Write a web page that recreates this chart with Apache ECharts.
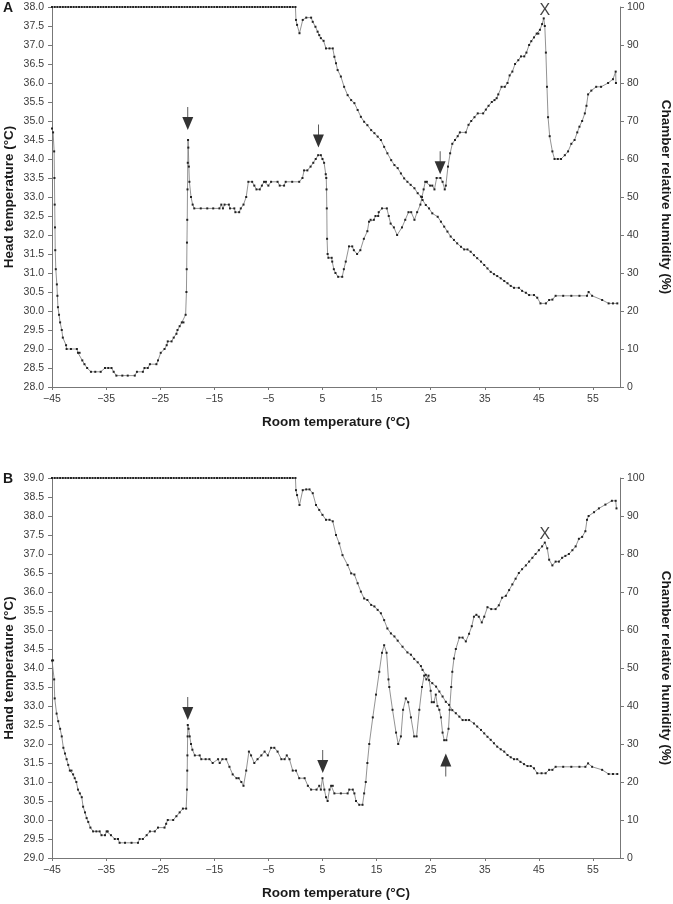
<!DOCTYPE html>
<html>
<head>
<meta charset="utf-8">
<script src="https://cdn.jsdelivr.net/npm/echarts@6/dist/echarts.min.js"></script>
<style>
html,body{margin:0;padding:0;background:#fff;}
#chart{width:673px;height:904px;}
</style>
</head>
<body>
<div id="chart"></div>
<script>
// ---- Data ----
const roomTempTicks = [-45, -35, -25, -15, -5, 5, 15, 25, 35, 45, 55];

// humidity held at 100 % (saturated) before the chamber starts drying
const saturatedPhase = [
[-45,100],[-44.5,100],[-44,100],[-43.5,100],[-43,100],[-42.5,100],[-42,100],[-41.5,100],[-41,100],[-40.5,100],
[-40,100],[-39.5,100],[-39,100],[-38.5,100],[-38,100],[-37.5,100],[-37,100],[-36.5,100],[-36,100],[-35.5,100],
[-35,100],[-34.5,100],[-34,100],[-33.5,100],[-33,100],[-32.5,100],[-32,100],[-31.5,100],[-31,100],[-30.5,100],
[-30,100],[-29.5,100],[-29,100],[-28.5,100],[-28,100],[-27.5,100],[-27,100],[-26.5,100],[-26,100],[-25.5,100],
[-25,100],[-24.5,100],[-24,100],[-23.5,100],[-23,100],[-22.5,100],[-22,100],[-21.5,100],[-21,100],[-20.5,100],
[-20,100],[-19.5,100],[-19,100],[-18.5,100],[-18,100],[-17.5,100],[-17,100],[-16.5,100],[-16,100],[-15.5,100],
[-15,100],[-14.5,100],[-14,100],[-13.5,100],[-13,100],[-12.5,100],[-12,100],[-11.5,100],[-11,100],[-10.5,100],
[-10,100],[-9.5,100],[-9,100],[-8.5,100],[-8,100],[-7.5,100],[-7,100],[-6.5,100],[-6,100],[-5.5,100],
[-5,100],[-4.5,100],[-4,100],[-3.5,100],[-3,100],[-2.5,100],[-2,100],[-1.5,100],[-1,100],[-0.5,100]
];

const headTempA = [
[-45.0,34.8],[-44.8,34.7],[-44.6,34.2],[-44.55,33.5],[-44.5,32.8],[-44.45,32.2],[-44.4,31.6],[-44.3,31.1],[-44.1,30.7],[-44.0,30.4],
[-43.9,30.1],[-43.7,29.9],[-43.5,29.7],[-43.2,29.5],[-43.0,29.3],[-42.4,29.1],[-42.3,29.0],[-41.5,29.0],[-40.4,29.0],[-40.2,28.9],
[-39.9,28.9],[-39.4,28.7],[-39.0,28.6],[-38.5,28.5],[-37.8,28.4],[-37.0,28.4],[-36.0,28.4],[-35.2,28.5],[-34.6,28.5],[-34.0,28.5],
[-33.6,28.4],[-33.1,28.3],[-32.0,28.3],[-31.0,28.3],[-29.7,28.3],[-29.3,28.4],[-28.2,28.4],[-27.9,28.5],[-27.3,28.5],[-26.9,28.6],
[-25.7,28.6],[-25.4,28.7],[-24.9,28.9],[-24.2,29.0],[-23.8,29.1],[-23.6,29.2],[-22.9,29.2],[-22.5,29.3],[-22.0,29.4],[-21.8,29.5],
[-21.4,29.6],[-21.0,29.7],[-20.7,29.7],[-20.3,29.9],[-20.15,30.5],[-20.1,31.1],[-20.05,31.8],[-20.0,32.4],[-19.95,33.2],[-19.9,33.9],
[-19.85,34.5],[-19.8,34.3],[-19.7,33.8],[-19.6,33.4],[-19.3,33.0],[-19.0,32.8],[-18.7,32.7],[-17.5,32.7],[-16.3,32.7],[-15.2,32.7],
[-14.05,32.7],[-13.7,32.8],[-13.4,32.7],[-13.1,32.8],[-12.3,32.8],[-12.1,32.7],[-11.3,32.7],[-11.1,32.6],[-10.4,32.6],[-10.1,32.7],
[-9.6,32.8],[-9.1,33.0],[-8.7,33.4],[-8.0,33.4],[-7.6,33.3],[-7.2,33.2],[-6.6,33.2],[-6.2,33.3],[-5.8,33.4],[-5.45,33.4],
[-5.0,33.3],[-4.5,33.4],[-3.3,33.4],[-2.9,33.3],[-2.1,33.3],[-1.8,33.4],[-0.6,33.4],[0.7,33.4],[1.3,33.5],[1.6,33.7],
[2.2,33.7],[2.8,33.8],[3.3,33.9],[3.75,34.0],[4.2,34.1],[4.7,34.1],[5.0,34.0],[5.3,33.9],[5.6,33.6],[5.7,33.5],
[5.75,33.2],[5.8,32.7],[5.85,31.9],[5.95,31.5],[6.1,31.4],[6.7,31.4],[6.8,31.3],[7.1,31.1],[7.4,31.0],[7.9,30.9],
[8.65,30.9],[8.95,31.1],[9.3,31.3],[9.9,31.7],[10.5,31.7],[10.8,31.6],[11.4,31.5],[12.0,31.6],[12.65,31.9],[13.3,32.1],
[13.6,32.35],[13.9,32.4],[14.5,32.4],[14.8,32.5],[15.3,32.5],[15.4,32.6],[16.0,32.7],[16.9,32.7],[17.25,32.5],[17.6,32.3],
[18.2,32.2],[18.8,32.0],[19.7,32.2],[20.3,32.4],[20.9,32.6],[21.4,32.6],[22.0,32.4],[22.5,32.6],[23.1,32.8],[23.4,33.0],
[23.7,33.2],[24.0,33.4],[24.3,33.4],[24.9,33.3],[25.3,33.3],[25.7,33.2],[26.1,33.5],[26.8,33.5],[27.2,33.4],[27.6,33.2],
[27.8,33.3],[28.2,33.8],[28.6,34.15],[29.0,34.4],[29.5,34.5],[30.0,34.6],[30.4,34.7],[31.5,34.7],[32.0,34.9],[32.5,35.0],
[33.1,35.1],[33.7,35.2],[34.7,35.2],[35.2,35.3],[35.7,35.4],[36.3,35.5],[36.8,35.55],[37.2,35.6],[37.5,35.7],[38.1,35.9],
[38.7,35.9],[39.2,36.0],[39.6,36.2],[40.1,36.3],[40.6,36.5],[41.2,36.6],[41.7,36.7],[42.3,36.7],[42.7,36.8],[43.2,37.0],
[43.6,37.1],[44.1,37.2],[44.6,37.3],[44.9,37.3],[45.2,37.4],[45.6,37.55],[45.9,37.7],[46.1,37.5],[46.3,36.8],[46.5,35.9],
[46.7,35.1],[47.0,34.6],[47.5,34.2],[47.9,34.0],[48.5,34.0],[49.1,34.0],[49.8,34.1],[50.4,34.2],[51.0,34.4],[51.6,34.5],
[52.1,34.7],[52.5,34.85],[53.0,35.0],[53.5,35.2],[53.8,35.4],[54.1,35.7],[54.7,35.8],[55.6,35.9],[56.5,35.9],[57.8,36.0],
[58.7,36.1],[59.2,36.3],[59.25,36.0]
];

const humidityDryingA = [
[0.0,100],[0.1,96.6],[0.3,95.3],[0.75,93.1],[1.35,96.6],[2.0,97.2],[2.9,97.2],[3.2,96.1],[3.7,94.8],[4.1,93.5],
[4.4,92.6],[4.7,91.8],[5.2,91.1],[5.65,89.1],[6.3,89.1],[6.9,89.1],[7.2,86.9],[7.5,85.2],[7.8,83.4],[8.4,81.7],
[9.0,79.0],[9.65,76.8],[10.3,75.5],[10.9,74.7],[11.5,72.9],[12.1,71.1],[12.7,69.8],[13.3,68.9],[14.0,67.6],[14.6,66.8],
[15.2,65.9],[15.8,65.0],[16.4,63.2],[17.0,61.5],[17.7,59.7],[18.3,58.4],[18.9,57.6],[19.5,56.2],[20.1,54.9],[20.7,54.0],
[21.3,53.2],[22.0,52.3],[22.6,51.0],[23.2,50.1],[23.5,49.2],[24.1,47.9],[24.7,47.0],[25.3,45.7],[26.3,44.8],[26.9,43.5],
[27.5,42.2],[28.1,40.9],[28.7,39.6],[29.3,38.7],[29.9,37.8],[30.6,36.9],[31.2,36.2],[31.8,36.2],[32.4,35.6],[33.0,34.7],
[33.6,33.9],[34.3,33.0],[34.9,32.1],[35.5,31.2],[36.1,30.3],[36.7,29.7],[37.3,29.2],[37.95,28.6],[38.6,27.9],[39.2,27.3],
[39.8,26.6],[40.4,26.1],[41.3,26.1],[41.9,25.3],[42.6,24.8],[43.2,24.2],[44.1,24.2],[44.7,23.5],[45.3,22.0],[46.3,22.0],
[46.9,22.9],[47.5,23.0],[48.1,24.0],[49.5,24.0],[51.0,24.0],[52.5,24.0],[53.9,24.0],[54.2,25.0],[54.85,24.0],[56.7,22.9],
[57.9,22.0],[58.7,22.0],[59.5,22.0]
];

const handTempB = [
[-45.0,34.2],[-44.8,34.2],[-44.6,33.7],[-44.5,33.2],[-44.15,32.8],[-43.85,32.6],[-43.5,32.4],[-43.2,32.2],[-42.9,31.9],[-42.6,31.75],
[-42.3,31.6],[-42.0,31.45],[-41.7,31.3],[-41.4,31.3],[-41.1,31.2],[-40.8,31.1],[-40.5,31.0],[-40.2,30.8],[-39.85,30.7],[-39.5,30.6],
[-39.25,30.35],[-38.9,30.2],[-38.6,30.05],[-38.3,29.95],[-37.9,29.8],[-37.4,29.7],[-36.8,29.7],[-36.2,29.7],[-35.85,29.6],[-35.2,29.6],
[-34.9,29.7],[-34.7,29.7],[-34.1,29.6],[-33.4,29.5],[-32.8,29.5],[-32.5,29.4],[-31.5,29.4],[-30.3,29.4],[-29.1,29.4],[-28.8,29.5],
[-28.2,29.5],[-27.5,29.6],[-26.9,29.7],[-26.0,29.7],[-25.4,29.8],[-24.2,29.8],[-23.9,29.9],[-23.6,30.0],[-22.6,30.0],[-22.0,30.1],
[-21.4,30.2],[-20.8,30.3],[-20.2,30.3],[-20.05,30.8],[-20.0,31.3],[-19.97,31.7],[-19.93,32.2],[-19.9,32.5],[-19.75,32.4],[-19.55,32.2],
[-19.3,32.0],[-19.05,31.85],[-18.6,31.7],[-17.7,31.7],[-17.4,31.6],[-16.6,31.6],[-15.9,31.6],[-15.3,31.5],[-14.3,31.6],[-14.0,31.5],
[-13.5,31.6],[-12.8,31.6],[-12.2,31.4],[-11.6,31.2],[-10.9,31.1],[-10.5,31.1],[-10.0,31.0],[-9.6,30.9],[-9.1,31.3],[-8.6,31.8],
[-8.2,31.7],[-7.6,31.5],[-7.0,31.6],[-6.3,31.7],[-5.7,31.8],[-5.1,31.7],[-4.5,31.9],[-3.9,31.9],[-3.3,31.8],[-2.6,31.6],
[-2.0,31.6],[-1.6,31.7],[-1.1,31.6],[-0.5,31.3],[0.1,31.3],[0.7,31.1],[1.7,31.1],[2.3,30.9],[2.9,30.8],[3.9,30.8],
[4.4,30.9],[4.7,30.8],[5.0,31.1],[5.35,30.8],[5.65,30.6],[5.95,30.5],[6.3,30.8],[6.6,30.9],[6.9,30.9],[7.2,30.7],
[8.4,30.7],[9.65,30.7],[9.95,30.8],[10.6,30.8],[10.9,30.7],[11.2,30.5],[11.8,30.4],[12.4,30.4],[12.7,30.7],[13.0,31.0],
[13.3,31.5],[13.65,32.0],[14.3,32.7],[14.9,33.3],[15.5,33.9],[16.0,34.4],[16.4,34.6],[16.85,34.4],[17.2,33.7],[17.35,33.5],
[17.95,32.9],[18.6,32.3],[19.0,32.0],[19.5,32.2],[19.9,32.9],[20.4,33.2],[20.85,33.1],[21.35,32.7],[21.95,32.2],[22.4,32.2],
[22.9,32.9],[23.4,33.5],[23.8,33.8],[24.2,33.7],[24.6,33.8],[25.0,33.4],[25.2,33.1],[25.6,33.1],[25.95,33.3],[26.25,33.0],
[26.6,32.9],[26.9,32.7],[27.2,32.3],[27.5,32.1],[27.9,32.1],[28.3,32.4],[28.5,32.9],[28.8,33.5],[29.0,33.9],[29.3,34.25],
[29.65,34.5],[30.3,34.8],[30.9,34.8],[31.5,34.7],[32.1,34.9],[32.6,35.1],[33.0,35.35],[33.45,35.4],[33.9,35.35],[34.45,35.2],
[34.9,35.35],[35.5,35.6],[36.2,35.55],[37.0,35.55],[37.6,35.65],[38.2,35.85],[38.9,35.9],[39.5,36.05],[40.1,36.2],[40.7,36.35],
[41.3,36.5],[41.9,36.6],[42.6,36.7],[43.2,36.8],[43.8,36.9],[44.4,37.0],[45.0,37.1],[45.6,37.2],[46.1,37.3],[46.55,37.15],
[46.9,36.85],[47.5,36.7],[48.1,36.8],[48.7,36.8],[49.3,36.9],[49.9,36.95],[50.55,37.0],[51.2,37.1],[51.8,37.2],[52.4,37.4],
[53.0,37.45],[53.6,37.6],[53.9,37.9],[54.2,38.0],[55.2,38.1],[56.1,38.2],[57.3,38.3],[58.5,38.4],[59.2,38.4],[59.35,38.2]
];

const humidityDryingB = [
[0.0,100],[0.1,96.8],[0.3,95.5],[0.75,92.9],[1.35,96.8],[2.0,97.0],[2.6,97.0],[3.2,96.0],[3.8,92.9],[4.4,91.6],
[5.0,90.3],[5.65,89.0],[6.3,89.0],[6.9,88.6],[7.5,85.0],[8.1,82.8],[8.7,79.7],[9.65,77.1],[10.3,74.9],[10.9,74.6],
[11.5,72.3],[12.1,70.1],[12.7,68.3],[13.3,67.9],[14.0,66.6],[14.6,66.2],[15.2,65.3],[15.8,64.4],[16.4,62.6],[17.0,60.4],
[17.65,59.1],[18.3,58.3],[18.9,57.2],[19.8,55.6],[20.7,54.1],[21.35,53.5],[21.95,52.4],[22.6,51.5],[23.2,50.5],[23.5,49.5],
[24.1,48.2],[24.7,46.8],[25.3,46.0],[26.0,45.1],[26.6,43.8],[27.2,42.5],[27.8,41.1],[28.4,40.3],[29.0,38.9],[29.65,38.1],
[30.3,37.2],[30.9,36.3],[31.5,36.3],[32.1,36.3],[33.0,35.4],[33.6,34.6],[34.3,33.7],[34.9,32.8],[35.5,31.9],[36.1,31.1],
[36.7,30.2],[37.3,29.3],[37.95,28.6],[38.6,28.0],[39.2,27.1],[39.8,26.5],[40.4,26.0],[41.0,26.0],[41.6,25.3],[42.25,24.7],
[42.9,24.2],[43.5,24.2],[44.1,23.6],[44.7,22.3],[45.5,22.3],[46.25,22.3],[46.9,23.2],[47.5,23.2],[48.1,24.0],[49.5,24.0],
[51.0,24.0],[52.5,24.0],[53.6,24.0],[54.1,24.9],[54.85,24.0],[56.7,23.2],[57.9,22.1],[58.7,22.1],[59.5,22.1]
];

// annotation anchor points (arrow tips / X marks), in data units
const arrowsDownA = [[-19.9, 34.76], [4.25, 34.3], [26.75, 33.6]];
const crossA = [[46.1, 37.9]];
const arrowsDownB = [[-19.9, 32.63], [5.05, 31.24]];
const arrowsUpB = [[27.8, 31.75]];
const crossB = [[46.1, 37.5]];

// ---- Chart ----
const FONT = '"Liberation Sans", Arial, sans-serif';
const humidityA = saturatedPhase.concat(humidityDryingA);
const humidityB = saturatedPhase.concat(humidityDryingB);

const chart = echarts.init(document.getElementById('chart'), null, {renderer: 'canvas'});

function xAxisFor(gridIndex) {
  return {
    type: 'value', gridIndex: gridIndex, min: -45, max: 60,
    name: 'Room temperature (°C)', nameLocation: 'middle', nameGap: 28, nameMoveOverlap: false,
    nameTextStyle: {fontFamily: FONT, fontWeight: 'bold', fontSize: 13.5, color: '#1a1a1a'},
    axisLine: {show: true, onZero: false, lineStyle: {color: '#777', width: 1}},
    axisTick: {show: true, customValues: roomTempTicks, length: 3, lineStyle: {color: '#777'}},
    axisLabel: {customValues: roomTempTicks, fontFamily: FONT, fontSize: 10.5, color: '#3a3a3a', margin: 7,
      formatter: function (v) { return v < 0 ? '\u2212' + (-v) : String(v); }},
    splitLine: {show: false}
  };
}
function leftAxisFor(gridIndex, min, max, name) {
  return {
    type: 'value', gridIndex: gridIndex, position: 'left', min: min, max: max, interval: 0.5,
    name: name, nameLocation: 'middle', nameGap: 36, nameRotate: 90, nameMoveOverlap: false,
    nameTextStyle: {fontFamily: FONT, fontWeight: 'bold', fontSize: 13.5, color: '#1a1a1a'},
    axisLine: {show: true, onZero: false, lineStyle: {color: '#777', width: 1}},
    axisTick: {show: true, length: 4, lineStyle: {color: '#777'}},
    axisLabel: {fontFamily: FONT, fontSize: 10.5, color: '#3a3a3a', margin: 8,
      formatter: function (v) { return v.toFixed(1); }},
    splitLine: {show: false}
  };
}
function rightAxisFor(gridIndex) {
  return {
    type: 'value', gridIndex: gridIndex, position: 'right', min: 0, max: 100, interval: 10,
    name: 'Chamber relative humidity (%)', nameLocation: 'middle', nameGap: 39, nameRotate: -90, nameMoveOverlap: false,
    nameTextStyle: {fontFamily: FONT, fontWeight: 'bold', fontSize: 13.5, color: '#1a1a1a'},
    axisLine: {show: true, onZero: false, lineStyle: {color: '#777', width: 1}},
    axisTick: {show: true, length: 4, lineStyle: {color: '#777'}},
    axisLabel: {fontFamily: FONT, fontSize: 10.5, color: '#3a3a3a', margin: 7},
    splitLine: {show: false}
  };
}
function traceSeries(data, xi, yi) {
  return {
    type: 'line', xAxisIndex: xi, yAxisIndex: yi, data: data,
    symbol: 'rect', symbolSize: 2, showSymbol: true, clip: false,
    lineStyle: {color: '#777', width: 0.8}, itemStyle: {color: '#222'},
    emphasis: {disabled: true}, z: 2
  };
}
const DOWN_ARROW = 'path://M5.1,0 L5.9,0 L5.9,10 L11,10 L5.5,23 L0,10 L5.1,10 Z';
const UP_ARROW = 'path://M5.5,0 L11,13 L5.9,13 L5.9,23 L5.1,23 L5.1,13 L0,13 Z';
function arrowSeries(data, xi, yi, up) {
  return {
    type: 'scatter', xAxisIndex: xi, yAxisIndex: yi, data: data,
    symbol: up ? UP_ARROW : DOWN_ARROW, symbolSize: [11, 23],
    symbolOffset: [0, up ? '50%' : '-50%'], clip: false,
    itemStyle: {color: '#000'}, emphasis: {disabled: true}, z: 5
  };
}
function crossSeries(data, xi, yi) {
  return {
    type: 'scatter', xAxisIndex: xi, yAxisIndex: yi, data: data,
    symbol: 'circle', symbolSize: 0.1, clip: false, itemStyle: {color: 'rgba(0,0,0,0)'},
    label: {show: true, position: 'inside', formatter: 'X', fontFamily: FONT, fontSize: 16, color: '#111'},
    emphasis: {disabled: true}, z: 5
  };
}

chart.setOption({
  animation: false,
  backgroundColor: '#fff',
  grid: [
    {left: 52, right: 53, top: 7, height: 380, containLabel: false, outerBoundsMode: 'none'},
    {left: 52, right: 53, top: 478, height: 380, containLabel: false, outerBoundsMode: 'none'}
  ],
  xAxis: [xAxisFor(0), xAxisFor(1)],
  yAxis: [
    leftAxisFor(0, 28, 38, 'Head temperature (°C)'),
    rightAxisFor(0),
    leftAxisFor(1, 29, 39, 'Hand temperature (°C)'),
    rightAxisFor(1)
  ],
  graphic: [
    {type: 'text', left: 3, top: 1, style: {text: 'A', font: 'bold 14px ' + FONT, fill: '#1a1a1a'}},
    {type: 'text', left: 3, top: 472, style: {text: 'B', font: 'bold 14px ' + FONT, fill: '#1a1a1a'}}
  ],
  series: [
    traceSeries(humidityA, 0, 1),
    traceSeries(headTempA, 0, 0),
    traceSeries(humidityB, 1, 3),
    traceSeries(handTempB, 1, 2),
    arrowSeries(arrowsDownA, 0, 0, false),
    crossSeries(crossA, 0, 0),
    arrowSeries(arrowsDownB, 1, 2, false),
    arrowSeries(arrowsUpB, 1, 2, true),
    crossSeries(crossB, 1, 2)
  ]
});
</script>
</body>
</html>
